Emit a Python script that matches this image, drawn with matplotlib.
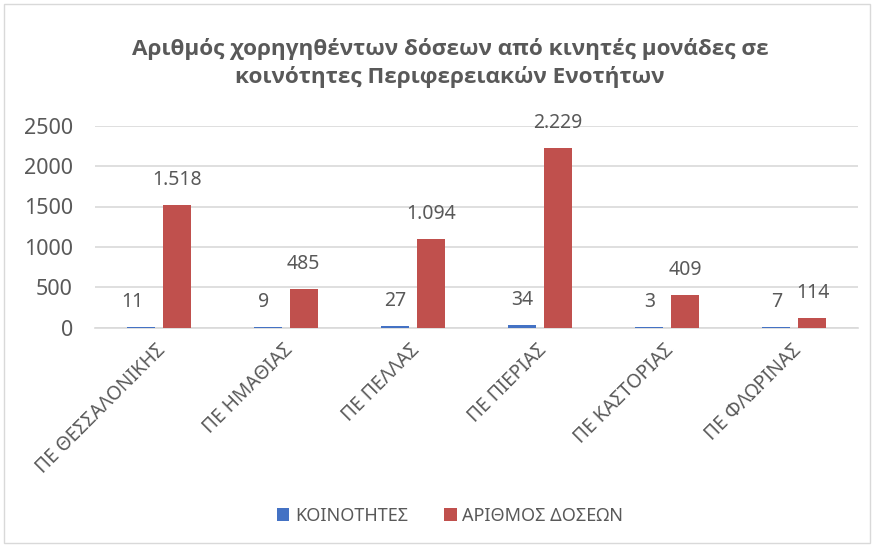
import matplotlib
matplotlib.use("Agg")
import matplotlib.pyplot as plt
import numpy as np
from matplotlib.patches import Rectangle

categories = ["ΠΕ ΘΕΣΣΑΛΟΝΙΚΗΣ", "ΠΕ ΗΜΑΘΙΑΣ", "ΠΕ ΠΕΛΛΑΣ", "ΠΕ ΠΙΕΡΙΑΣ", "ΠΕ ΚΑΣΤΟΡΙΑΣ", "ΠΕ ΦΛΩΡΙΝΑΣ"]
koinotites = [11, 9, 27, 34, 3, 7]
doseis = [1518, 485, 1094, 2229, 409, 114]
series_names = ["ΚΟΙΝΟΤΗΤΕΣ", "ΑΡΙΘΜΟΣ ΔΟΣΕΩΝ"]
title = "Αριθμός χορηγηθέντων δόσεων από κινητές μονάδες σε\nκοινότητες Περιφερειακών Ενοτήτων"
yticks = [0, 500, 1000, 1500, 2000, 2500]

def fmt(v):
    return f"{v:,}".replace(",", ".")

plt.rcParams['font.family'] = ['Noto Sans', 'DejaVu Sans']
TXT = "#595959"
GRID = "#D9D9D9"
BLUE = "#4472C4"
RED = "#C0504D"

fig = plt.figure(figsize=(8.74, 5.47), dpi=100)
ax = fig.add_axes([95/874, 1-327.7/547, 763/874, 202/547])

x = np.arange(len(categories))
w = 0.22
off = 0.142
b1 = ax.bar(x - off, koinotites, w, color=BLUE, zorder=3, label=series_names[0])
b2 = ax.bar(x + off, doseis, w, color=RED, zorder=3, label=series_names[1])

ax.set_xlim(-0.5, len(categories) - 0.5)
ax.set_ylim(0, 2500)
ax.set_yticks(yticks)
ax.set_yticklabels([str(t) for t in yticks])
ax.grid(axis='y', color=GRID, linewidth=1.2, zorder=0)
for s in ["top", "right", "left"]:
    ax.spines[s].set_visible(False)
ax.spines["bottom"].set_color(GRID)
ax.spines["bottom"].set_linewidth(1.2)
ax.tick_params(axis='y', length=0, pad=16, labelsize=15.5, labelcolor=TXT)
ax.tick_params(axis='x', length=0, pad=14, labelsize=13.8, labelcolor=TXT)
ax.set_xticks(x + 0.03)
ax.set_xticklabels(categories, rotation=45, ha='right', rotation_mode='anchor', va='center')

label_dx = [-6, -3, 0, 0, 0, 0]
for i, (r1, r2) in enumerate(zip(b1, b2)):
    ax.annotate(str(koinotites[i]), (r1.get_x() + r1.get_width()/2, r1.get_height()),
                xytext=(label_dx[i], 18), textcoords='offset points', ha='center', va='center',
                fontsize=14, color=TXT)
    ax.annotate(fmt(doseis[i]), (r2.get_x() + r2.get_width()/2, r2.get_height()),
                xytext=(0, 18), textcoords='offset points', ha='center', va='center',
                fontsize=14, color=TXT)

fig.text(450/874, 1-63/547, title, ha='center', va='center', fontsize=16.2, fontweight='bold',
         color=TXT, linespacing=1.3, family=['Open Sans', 'DejaVu Sans'])

fig.legend(handles=[b1, b2], labels=series_names, loc='center', bbox_to_anchor=(450/874, 1-516/547),
           ncol=2, frameon=False, fontsize=13, labelcolor=TXT, handlelength=0.7, handleheight=0.7,
           columnspacing=2.0, handletextpad=0.3)

fig.add_artist(Rectangle((4/874, 4/547), 866/874, 539/547, transform=fig.transFigure,
                         fill=False, edgecolor=GRID, linewidth=1))

fig.savefig("out.png", dpi=100)
